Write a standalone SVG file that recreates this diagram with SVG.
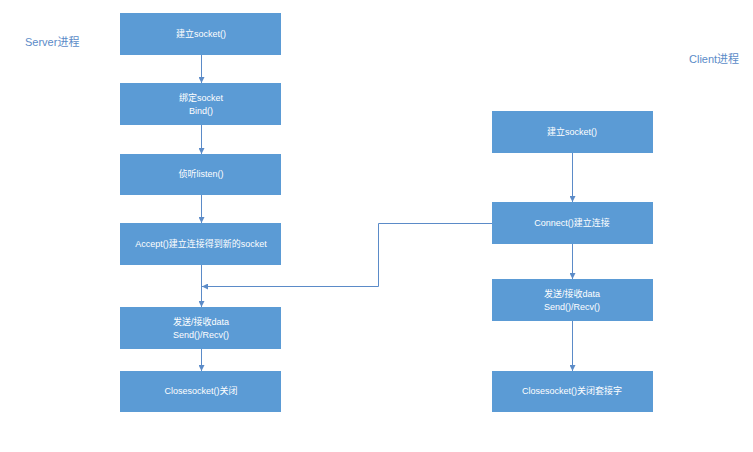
<svg xmlns="http://www.w3.org/2000/svg" width="753" height="452" viewBox="0 0 753 452">
<style>
.box{fill:#5B9BD5;}
.t{fill:#ffffff;font-family:"Liberation Sans","Noto Sans CJK SC",sans-serif;font-size:9px;text-anchor:middle;}
.lbl{fill:#5B8BC8;font-family:"Liberation Sans","Noto Sans CJK SC",sans-serif;font-size:11px;}
.c{stroke:#5B8BC8;stroke-width:1;fill:none;marker-end:url(#ah);}
</style>
<defs>
<marker id="ah" viewBox="0 0 10 10" refX="10" refY="5" markerWidth="6" markerHeight="6" markerUnits="userSpaceOnUse" orient="auto">
<path d="M0,0 L10,5 L0,10 z" fill="#5B8BC8"/>
</marker>
</defs>
<rect width="753" height="452" fill="#ffffff"/>
<text class="lbl" x="25" y="46">Server进程</text>
<text class="lbl" x="689" y="63">Client进程</text>
<g id="connectors">
<path class="c" d="M201.5,55 V83"/>
<path class="c" d="M201.5,125 V154"/>
<path class="c" d="M201.5,195 V223"/>
<path class="c" d="M201.5,265 V307"/>
<path class="c" d="M201.5,349 V371"/>
<path class="c" d="M492,223.5 H378.5 V286.5 H202"/>
<path class="c" d="M572.5,153 V202"/>
<path class="c" d="M572.5,244 V279"/>
<path class="c" d="M572.5,321 V371"/>
</g>
<g id="s1"><rect class="box" x="120" y="13" width="161" height="42"/><text class="t" x="201" y="37">建立socket()</text></g>
<g id="s2"><rect class="box" x="120" y="83" width="161" height="42"/><text class="t" x="201" y="101">绑定socket</text><text class="t" x="201" y="114">Bind()</text></g>
<g id="s3"><rect class="box" x="120" y="154" width="161" height="41"/><text class="t" x="201" y="177">侦听listen()</text></g>
<g id="s4"><rect class="box" x="120" y="223" width="161" height="42"/><text class="t" x="201" y="247">Accept()建立连接得到新的socket</text></g>
<g id="s5"><rect class="box" x="120" y="307" width="161" height="42"/><text class="t" x="201" y="325">发送/接收data</text><text class="t" x="201" y="338">Send()/Recv()</text></g>
<g id="s6"><rect class="box" x="120" y="371" width="161" height="41"/><text class="t" x="201" y="394">Closesocket()关闭</text></g>
<g id="c1"><rect class="box" x="492" y="111" width="161" height="42"/><text class="t" x="572" y="135">建立socket()</text></g>
<g id="c2"><rect class="box" x="492" y="202" width="161" height="42"/><text class="t" x="572" y="226">Connect()建立连接</text></g>
<g id="c3"><rect class="box" x="492" y="279" width="161" height="42"/><text class="t" x="572" y="297">发送/接收data</text><text class="t" x="572" y="310">Send()/Recv()</text></g>
<g id="c4"><rect class="box" x="492" y="371" width="161" height="41"/><text class="t" x="572" y="394">Closesocket()关闭套接字</text></g>
</svg>
